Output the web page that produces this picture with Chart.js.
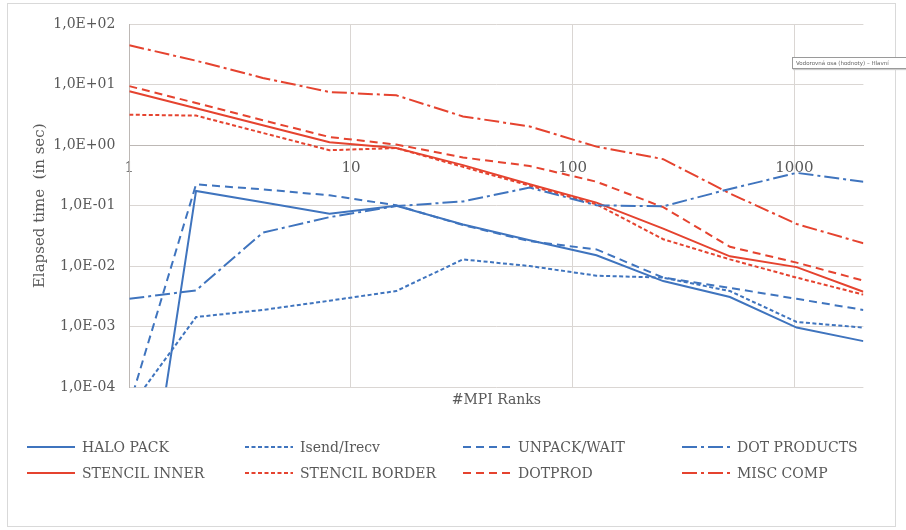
<!DOCTYPE html>
<html>
<head>
<meta charset="utf-8">
<script src="https://cdn.jsdelivr.net/npm/chart.js@4.4.1/dist/chart.umd.min.js"></script>
<style>
  body { margin: 0; background: #fff; }
  #wrap { position: relative; width: 906px; height: 530px; overflow: hidden; font-family: "DejaVu Serif", serif; color: #595959; }
  #frame { position: absolute; left: 7px; top: 3px; width: 889px; height: 524px; border: 1px solid #d9d9d9; box-sizing: border-box; }
  #cv { position: absolute; left: 0; top: 0; }
  .leg { position: absolute; height: 20px; display: flex; align-items: center; font-size: 14px; white-space: nowrap; color: #595959; }
  .leg svg { margin-right: 7px; }
  #tip { position: absolute; left: 792px; top: 57px; width: 120px; height: 10px; border: 1px solid #9a9a9a; background: #fff; font-family: "DejaVu Sans", sans-serif; font-size: 5.5px; line-height: 10px; color: #666; white-space: nowrap; overflow: hidden; padding-left: 3px; box-shadow: 1px 1px 1px #ccc; }
</style>
</head>
<body>
<div id="wrap">
  <div id="frame"></div>
  <canvas id="cv" width="906" height="530"></canvas>
  <div id="tip">Vodorovná osa (hodnoty) – Hlavní</div>
</div>
<script>
// ---- data ----
const ranks = [1, 2, 4, 8, 16, 32, 64, 128, 256, 512, 1024, 2048];
const haloPack      = [1e-8, 0.176, 0.114, 0.074, 0.1, 0.049, 0.027, 0.0152, 0.0057, 0.0031, 0.00097, 0.00058];
const isendIrecv    = [4.5e-5, 0.00145, 0.0019, 0.0027, 0.0039, 0.013, 0.0101, 0.0070, 0.0065, 0.0039, 0.0012, 0.00097];
const unpackWait    = [5e-5, 0.226, 0.187, 0.149, 0.102, 0.048, 0.026, 0.019, 0.0065, 0.0044, 0.0029, 0.0019];
const dotProducts   = [0.0029, 0.004, 0.036, 0.065, 0.099, 0.118, 0.2, 0.102, 0.098, 0.19, 0.35, 0.25];
const stencilInner  = [7.8, 4.1, 2.15, 1.12, 0.9, 0.47, 0.227, 0.113, 0.042, 0.0146, 0.0097, 0.0038];
const stencilBorder = [3.2, 3.1, 1.6, 0.83, 0.9, 0.44, 0.215, 0.106, 0.028, 0.013, 0.0065, 0.0034];
const dotProd       = [9.5, 5.0, 2.6, 1.37, 1.03, 0.63, 0.455, 0.25, 0.095, 0.021, 0.0115, 0.0058];
const miscComp      = [45, 25, 13, 7.6, 6.7, 3.0, 2.05, 0.95, 0.59, 0.16, 0.05, 0.024];
const seriesNames = ['HALO PACK', 'Isend/Irecv', 'UNPACK/WAIT', 'DOT PRODUCTS', 'STENCIL INNER', 'STENCIL BORDER', 'DOTPROD', 'MISC COMP'];
const xTickValues = [1, 10, 100, 1000];
const yTickValues = [1e-4, 1e-3, 1e-2, 1e-1, 1, 10, 100];
const xTitle = '#MPI Ranks';
const yTitle = 'Elapsed time  (in sec)';

// ---- styles ----
const BLUE = '#3f74be';
const RED = '#e5432f';
const SOLID = [], SHORT = [4, 2.5], MEDIUM = [8, 5], DASHDOT = [15, 4, 3, 4];
const seriesValues = [haloPack, isendIrecv, unpackWait, dotProducts, stencilInner, stencilBorder, dotProd, miscComp];
const seriesColors = [BLUE, BLUE, BLUE, BLUE, RED, RED, RED, RED];
const seriesDashes = [SOLID, SHORT, MEDIUM, DASHDOT, SOLID, SHORT, MEDIUM, DASHDOT];

const FONT = "'DejaVu Serif', serif";
const TXT = '#595959';
Chart.defaults.font.family = FONT;
Chart.defaults.color = TXT;

const datasets = seriesNames.map((name, i) => ({
  label: name,
  data: ranks.map((r, j) => ({ x: r, y: seriesValues[i][j] })),
  borderColor: seriesColors[i],
  backgroundColor: seriesColors[i],
  borderDash: seriesDashes[i],
  borderWidth: 2,
  pointRadius: 0,
  tension: 0,
  fill: false
}));

function fmtExp(v) {
  const e = Math.round(Math.log10(v));
  const s = e < 0 ? '-' : '+';
  const a = Math.abs(e);
  return '1,0E' + s + (a < 10 ? '0' + a : a);
}

new Chart(document.getElementById('cv'), {
  type: 'line',
  data: { datasets },
  options: {
    responsive: false,
    animation: false,
    layout: { padding: { left: 27, top: 24.3, right: 42.6, bottom: 117.7 } },
    plugins: { legend: { display: false }, tooltip: { enabled: false } },
    scales: {
      x: {
        type: 'logarithmic',
        min: 1, max: 2048,
        position: { y: 1 },
        afterBuildTicks: s => { s.ticks = xTickValues.map(v => ({ value: v })); },
        afterFit: s => { s.height = 0; },
        grid: { color: '#dad6d3', lineWidth: 1, drawTicks: false },
        border: { display: true, color: '#bdb8b5', width: 1 },
        ticks: {
          autoSkip: false, maxRotation: 0, minRotation: 0, padding: 14,
          color: TXT, font: { family: FONT, size: 15 },
          callback: v => String(v)
        }
      },
      xt: {
        type: 'linear', position: 'bottom', min: 0, max: 1,
        grid: { display: false }, border: { display: false },
        ticks: { display: false },
        title: { display: true, text: xTitle, color: TXT, font: { family: FONT, size: 14 }, padding: { top: 4, bottom: 4 } },
        afterFit: s => { s.height = 25; }
      },
      y: {
        type: 'logarithmic',
        min: 1e-4, max: 100,
        afterBuildTicks: s => { s.ticks = yTickValues.map(v => ({ value: v })); },
        afterFit: s => { s.width = 102.3; },
        grid: { color: '#dad6d3', lineWidth: 1, drawTicks: false },
        border: { display: true, color: '#bdb8b5', width: 1 },
        ticks: {
          autoSkip: false, padding: 14, color: TXT, font: { family: FONT, size: 14 },
          callback: v => fmtExp(v)
        },
        title: { display: true, text: yTitle, color: TXT, font: { family: FONT, size: 15 }, padding: { top: 4, bottom: 4 } }
      }
    }
  }
});

// ---- legend (HTML, built from the same series definitions) ----
const legTextX = [82, 300, 518, 737];
const legRowY = [446.5, 472.5];
const wrap = document.getElementById('wrap');
seriesNames.forEach((name, i) => {
  const col = i % 4, row = Math.floor(i / 4);
  const d = document.createElement('div');
  d.className = 'leg';
  d.style.left = (legTextX[col] - 55) + 'px';
  d.style.top = (legRowY[row] - 10) + 'px';
  const dash = seriesDashes[i].length ? seriesDashes[i].join(',') : 'none';
  d.innerHTML = '<svg width="48" height="6"><line x1="0" y1="3" x2="48" y2="3" stroke="' + seriesColors[i] +
    '" stroke-width="2" stroke-dasharray="' + dash + '"/></svg><span>' + name + '</span>';
  wrap.appendChild(d);
});
</script>
</body>
</html>
